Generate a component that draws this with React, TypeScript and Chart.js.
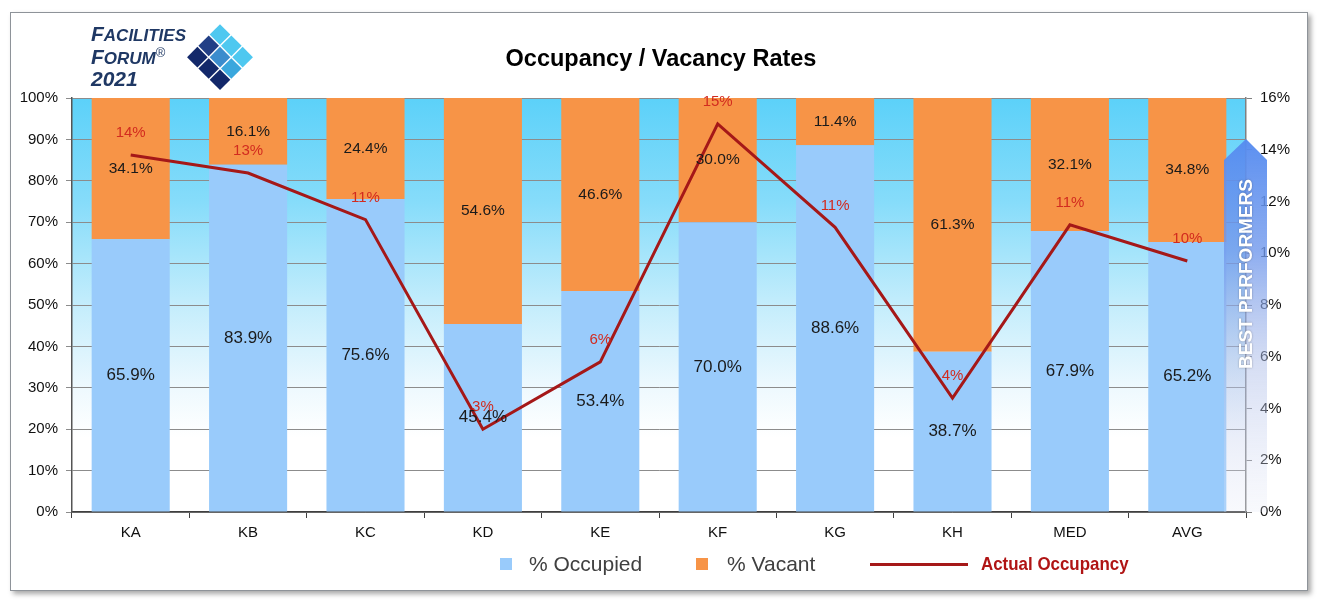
import React, { useEffect, useRef } from "react";
import { Chart, registerables } from "chart.js";

Chart.register(...registerables);

const categories = ["KA", "KB", "KC", "KD", "KE", "KF", "KG", "KH", "MED", "AVG"];
const occupied = [65.9, 83.9, 75.6, 45.4, 53.4, 70.0, 88.6, 38.7, 67.9, 65.2];
const vacant = [34.1, 16.1, 24.4, 54.6, 46.6, 30.0, 11.4, 61.3, 32.1, 34.8];
const actualOccupancy = [13.8, 13.1, 11.3, 3.2, 5.8, 15.0, 11.0, 4.4, 11.1, 9.7];

const FONT = "'Liberation Sans', Arial, sans-serif";

// gradient behind the plot, cyan at the top fading to white
const plotBackground = {
  id: "plotBackground",
  beforeDraw(chart: any) {
    const { ctx, chartArea: a } = chart;
    const g = ctx.createLinearGradient(0, a.top, 0, a.bottom);
    g.addColorStop(0, "#5cd1f9");
    g.addColorStop(0.25, "#86dcfa");
    g.addColorStop(0.5, "#c4edfc");
    g.addColorStop(0.7, "#eef9fe");
    g.addColorStop(0.82, "#ffffff");
    ctx.save();
    ctx.fillStyle = g;
    ctx.fillRect(a.left, a.top, a.right - a.left, a.bottom - a.top);
    ctx.restore();
  },
};

const valueLabels = {
  id: "valueLabels",
  afterDatasetsDraw(chart: any) {
    const ctx = chart.ctx;
    ctx.save();
    ctx.textAlign = "center";
    ctx.textBaseline = "middle";
    ctx.fillStyle = "#1a1a1a";
    [0, 1].forEach((di) => {
      const meta = chart.getDatasetMeta(di);
      const vals = chart.data.datasets[di].data;
      ctx.font = (di === 0 ? "17px " : "15.5px ") + FONT;
      meta.data.forEach((el: any, i: number) => {
        const { x, y, base } = el.getProps(["x", "y", "base"], true);
        ctx.fillText(vals[i].toFixed(1) + "%", x, (y + base) / 2);
      });
    });
    const lm = chart.getDatasetMeta(2);
    ctx.font = "15px " + FONT;
    ctx.fillStyle = "#d22b1f";
    lm.data.forEach((pt: any, i: number) => {
      ctx.fillText(Math.round(actualOccupancy[i]) + "%", pt.x, pt.y - 22);
    });
    ctx.restore();
  },
};

// the "BEST PERFORMERS" arrow over the right axis
const bestPerformers = {
  id: "bestPerformers",
  afterDraw(chart: any) {
    const { ctx, chartArea: a } = chart;
    const cx = a.right;
    const left = cx - 22;
    const right = cx + 21;
    const tip = a.top + 41;
    const shoulder = a.top + 62;
    const bottom = a.bottom;
    const g = ctx.createLinearGradient(0, tip, 0, bottom);
    g.addColorStop(0, "rgba(86,140,240,0.97)");
    g.addColorStop(0.3, "rgba(112,152,236,0.8)");
    g.addColorStop(0.6, "rgba(172,188,232,0.5)");
    g.addColorStop(1, "rgba(228,232,246,0.25)");
    ctx.save();
    ctx.beginPath();
    ctx.moveTo(cx, tip);
    ctx.lineTo(right, shoulder);
    ctx.lineTo(right, bottom);
    ctx.lineTo(left, bottom);
    ctx.lineTo(left, shoulder);
    ctx.closePath();
    ctx.fillStyle = g;
    ctx.fill();

    ctx.translate(cx, a.top + 176);
    ctx.rotate(-Math.PI / 2);
    ctx.font = "bold 19px " + FONT;
    ctx.textAlign = "center";
    ctx.textBaseline = "middle";
    ctx.shadowColor = "rgba(0,0,0,0.35)";
    ctx.shadowBlur = 2;
    ctx.fillStyle = "#ffffff";
    ctx.fillText("BEST PERFORMERS", 0, 1);
    ctx.restore();
  },
};

const logoCells = [
  ["#4ec8f0", "#4ec8f0", "#4ec8f0"],
  ["#223f86", "#3b8ccd", "#3aa7dd"],
  ["#13286a", "#13286a", "#13286a"],
];

const Logo = () => {
  const line = {
    position: "absolute" as const,
    left: 91,
    height: 22,
    lineHeight: "22px",
    color: "#1f3864",
    fontFamily: FONT,
    fontWeight: "bold" as const,
    fontStyle: "italic" as const,
    whiteSpace: "nowrap" as const,
  };
  const big = { fontSize: 21 };
  const small = { fontSize: 17 };
  return (
    <>
      <div style={{ ...line, top: 23 }}>
        <span style={big}>F</span>
        <span style={small}>ACILITIES</span>
      </div>
      <div style={{ ...line, top: 46 }}>
        <span style={big}>F</span>
        <span style={small}>ORUM</span>
        <span
          style={{
            fontSize: 13,
            fontStyle: "normal",
            fontWeight: "normal",
            position: "relative",
            top: -7,
          }}
        >
          ®
        </span>
      </div>
      <div style={{ ...line, top: 68, fontSize: 21 }}>2021</div>
      <svg
        width={80}
        height={80}
        style={{ position: "absolute", left: 180, top: 17 }}
      >
        <g transform="translate(40,40) rotate(45)">
          {logoCells.map((row, r) =>
            row.map((c, k) => (
              <rect
                key={r + "-" + k}
                x={-24 + k * 16 + 0.8}
                y={-24 + r * 16 + 0.8}
                width={14.6}
                height={14.6}
                fill={c}
              />
            ))
          )}
        </g>
      </svg>
    </>
  );
};

const App = () => {
  const canvasRef = useRef<HTMLCanvasElement | null>(null);

  useEffect(() => {
    document.body.style.margin = "0";
    document.body.style.overflow = "hidden";
    if (!canvasRef.current) return;
    const ctx = canvasRef.current.getContext("2d");
    if (!ctx) return;

    const tickFont = { size: 15, family: FONT };

    const chart = new Chart(ctx, {
      type: "bar",
      data: {
        labels: categories,
        datasets: [
          {
            label: "% Occupied",
            data: occupied,
            backgroundColor: "#99cbfb",
            stack: "rates",
            order: 1,
          },
          {
            label: "% Vacant",
            data: vacant,
            backgroundColor: "#f79447",
            stack: "rates",
            order: 1,
          },
          {
            type: "line",
            label: "Actual Occupancy",
            data: actualOccupancy,
            yAxisID: "y1",
            borderColor: "#a51818",
            borderWidth: 3,
            pointRadius: 0,
            tension: 0,
            order: 0,
          } as any,
        ],
      },
      options: {
        animation: false,
        responsive: true,
        maintainAspectRatio: false,
        layout: { padding: { top: 98, left: 0, right: 0, bottom: 0 } },
        datasets: {
          bar: { barPercentage: 0.665, categoryPercentage: 1 },
        },
        plugins: {
          legend: { display: false },
          title: { display: false },
          tooltip: { enabled: false },
        },
        scales: {
          x: {
            stacked: true,
            grid: {
              display: true,
              drawOnChartArea: false,
              drawTicks: true,
              tickLength: 6,
              color: "#404040",
              offset: true,
            },
            border: { color: "#404040", width: 1.5 },
            ticks: { color: "#111", font: tickFont, padding: 6 },
            afterFit: (s: any) => {
              s.height = 94;
            },
          },
          y: {
            stacked: true,
            min: 0,
            max: 100,
            ticks: {
              stepSize: 10,
              color: "#111",
              font: tickFont,
              padding: 8,
              callback: (v: any) => v + "%",
            },
            grid: { color: "#8c8c8c", tickLength: 6 },
            border: { color: "#555", width: 1.5 },
            afterFit: (s: any) => {
              s.width = 72;
            },
          },
          y1: {
            position: "right",
            min: 0,
            max: 16,
            ticks: {
              stepSize: 2,
              color: "#111",
              font: tickFont,
              padding: 8,
              callback: (v: any) => v + "%",
            },
            grid: { drawOnChartArea: false, tickLength: 6, color: "#808080" },
            border: { color: "#808080", width: 1.5 },
            afterFit: (s: any) => {
              s.width = 76;
            },
          },
        },
      },
      plugins: [plotBackground, valueLabels, bestPerformers],
    });

    return () => {
      chart.destroy();
    };
  }, []);

  const legendText = {
    position: "absolute" as const,
    top: 552,
    fontFamily: FONT,
    fontSize: 21,
    color: "#404040",
    lineHeight: "24px",
    whiteSpace: "nowrap" as const,
  };

  return (
    <div style={{ position: "relative", width: 1322, height: 606, background: "#fff", overflow: "hidden" }}>
      <div
        style={{
          position: "absolute",
          left: 10,
          top: 12,
          width: 1296,
          height: 577,
          border: "1px solid #8e9399",
          boxShadow: "3px 3px 5px rgba(0,0,0,0.35)",
          background: "#fff",
        }}
      />
      <div style={{ position: "absolute", left: 0, top: 0, width: 1322, height: 606 }}>
        <canvas ref={canvasRef} />
      </div>
      <Logo />
      <div
        style={{
          position: "absolute",
          left: 0,
          width: 1322,
          top: 44,
          textAlign: "center",
          fontFamily: FONT,
          fontWeight: "bold",
          fontSize: 23.5,
          lineHeight: "28px",
          color: "#000",
        }}
      >
        Occupancy / Vacancy Rates
      </div>
      <div style={{ position: "absolute", left: 500, top: 558, width: 12, height: 12, background: "#99cbfb" }} />
      <div style={{ ...legendText, left: 529 }}>% Occupied</div>
      <div style={{ position: "absolute", left: 696, top: 558, width: 12, height: 12, background: "#f79447" }} />
      <div style={{ ...legendText, left: 727 }}>% Vacant</div>
      <div style={{ position: "absolute", left: 870, top: 563, width: 98, height: 3, background: "#a51818" }} />
      <div
        style={{
          ...legendText,
          left: 981,
          fontFamily: FONT,
          fontWeight: "bold",
          fontSize: 19,
          color: "#b01414",
          transform: "scaleX(0.89)",
          transformOrigin: "left center",
        }}
      >
        Actual Occupancy
      </div>
    </div>
  );
};

export default App;
